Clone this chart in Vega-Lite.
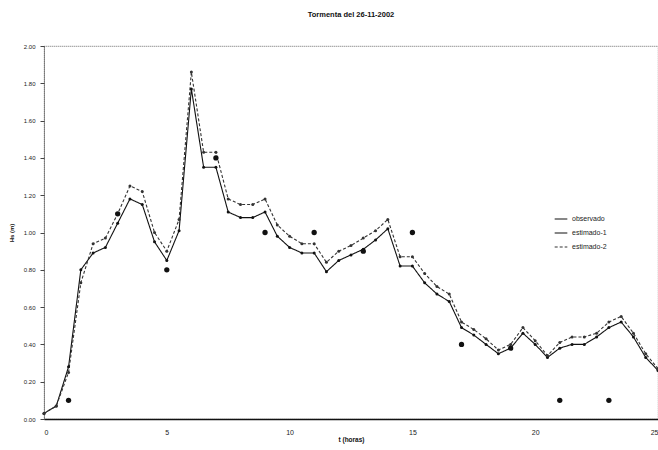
{
  "$schema": "https://vega.github.io/schema/vega-lite/v6.json",
  "autosize": {"type": "none"},
  "width": 614,
  "height": 373,
  "padding": {"left": 44, "top": 46, "right": 0, "bottom": 31},
  "background": "white",
  "title": {"text": "Tormenta del 26-11-2002", "fontSize": 7.5, "font": "Liberation Sans", "fontWeight": "bold", "color": "#111", "offset": 25, "anchor": "middle"},
  "config": {
    "view": {"stroke": "#444", "strokeDash": [1, 1], "strokeWidth": 0.8},
    "axis": {"grid": false, "labelFont": "Liberation Sans", "titleFont": "Liberation Sans", "labelColor": "#222", "titleColor": "#111"}
  },
  "data": {"values": [
    {"t": 0, "serie": "estimado-1", "hs": 0.03},
    {"t": 0.5, "serie": "estimado-1", "hs": 0.07},
    {"t": 1, "serie": "estimado-1", "hs": 0.28},
    {"t": 1.5, "serie": "estimado-1", "hs": 0.80},
    {"t": 2, "serie": "estimado-1", "hs": 0.89},
    {"t": 2.5, "serie": "estimado-1", "hs": 0.92},
    {"t": 3, "serie": "estimado-1", "hs": 1.05},
    {"t": 3.5, "serie": "estimado-1", "hs": 1.18},
    {"t": 4, "serie": "estimado-1", "hs": 1.15},
    {"t": 4.5, "serie": "estimado-1", "hs": 0.95},
    {"t": 5, "serie": "estimado-1", "hs": 0.85},
    {"t": 5.5, "serie": "estimado-1", "hs": 1.01},
    {"t": 6, "serie": "estimado-1", "hs": 1.77},
    {"t": 6.5, "serie": "estimado-1", "hs": 1.35},
    {"t": 7, "serie": "estimado-1", "hs": 1.35},
    {"t": 7.5, "serie": "estimado-1", "hs": 1.11},
    {"t": 8, "serie": "estimado-1", "hs": 1.08},
    {"t": 8.5, "serie": "estimado-1", "hs": 1.08},
    {"t": 9, "serie": "estimado-1", "hs": 1.11},
    {"t": 9.5, "serie": "estimado-1", "hs": 0.98},
    {"t": 10, "serie": "estimado-1", "hs": 0.92},
    {"t": 10.5, "serie": "estimado-1", "hs": 0.89},
    {"t": 11, "serie": "estimado-1", "hs": 0.89},
    {"t": 11.5, "serie": "estimado-1", "hs": 0.79},
    {"t": 12, "serie": "estimado-1", "hs": 0.85},
    {"t": 12.5, "serie": "estimado-1", "hs": 0.88},
    {"t": 13, "serie": "estimado-1", "hs": 0.91},
    {"t": 13.5, "serie": "estimado-1", "hs": 0.96},
    {"t": 14, "serie": "estimado-1", "hs": 1.02},
    {"t": 14.5, "serie": "estimado-1", "hs": 0.82},
    {"t": 15, "serie": "estimado-1", "hs": 0.82},
    {"t": 15.5, "serie": "estimado-1", "hs": 0.73},
    {"t": 16, "serie": "estimado-1", "hs": 0.67},
    {"t": 16.5, "serie": "estimado-1", "hs": 0.63},
    {"t": 17, "serie": "estimado-1", "hs": 0.49},
    {"t": 17.5, "serie": "estimado-1", "hs": 0.45},
    {"t": 18, "serie": "estimado-1", "hs": 0.40},
    {"t": 18.5, "serie": "estimado-1", "hs": 0.35},
    {"t": 19, "serie": "estimado-1", "hs": 0.38},
    {"t": 19.5, "serie": "estimado-1", "hs": 0.46},
    {"t": 20, "serie": "estimado-1", "hs": 0.40},
    {"t": 20.5, "serie": "estimado-1", "hs": 0.33},
    {"t": 21, "serie": "estimado-1", "hs": 0.38},
    {"t": 21.5, "serie": "estimado-1", "hs": 0.40},
    {"t": 22, "serie": "estimado-1", "hs": 0.40},
    {"t": 22.5, "serie": "estimado-1", "hs": 0.44},
    {"t": 23, "serie": "estimado-1", "hs": 0.49},
    {"t": 23.5, "serie": "estimado-1", "hs": 0.52},
    {"t": 24, "serie": "estimado-1", "hs": 0.44},
    {"t": 24.5, "serie": "estimado-1", "hs": 0.33},
    {"t": 25, "serie": "estimado-1", "hs": 0.26},
    {"t": 0, "serie": "estimado-2", "hs": 0.03},
    {"t": 0.5, "serie": "estimado-2", "hs": 0.07},
    {"t": 1, "serie": "estimado-2", "hs": 0.25},
    {"t": 1.5, "serie": "estimado-2", "hs": 0.73},
    {"t": 2, "serie": "estimado-2", "hs": 0.94},
    {"t": 2.5, "serie": "estimado-2", "hs": 0.97},
    {"t": 3, "serie": "estimado-2", "hs": 1.10},
    {"t": 3.5, "serie": "estimado-2", "hs": 1.25},
    {"t": 4, "serie": "estimado-2", "hs": 1.22},
    {"t": 4.5, "serie": "estimado-2", "hs": 1.00},
    {"t": 5, "serie": "estimado-2", "hs": 0.90},
    {"t": 5.5, "serie": "estimado-2", "hs": 1.07},
    {"t": 6, "serie": "estimado-2", "hs": 1.86},
    {"t": 6.5, "serie": "estimado-2", "hs": 1.43},
    {"t": 7, "serie": "estimado-2", "hs": 1.43},
    {"t": 7.5, "serie": "estimado-2", "hs": 1.18},
    {"t": 8, "serie": "estimado-2", "hs": 1.15},
    {"t": 8.5, "serie": "estimado-2", "hs": 1.15},
    {"t": 9, "serie": "estimado-2", "hs": 1.18},
    {"t": 9.5, "serie": "estimado-2", "hs": 1.04},
    {"t": 10, "serie": "estimado-2", "hs": 0.98},
    {"t": 10.5, "serie": "estimado-2", "hs": 0.94},
    {"t": 11, "serie": "estimado-2", "hs": 0.94},
    {"t": 11.5, "serie": "estimado-2", "hs": 0.84},
    {"t": 12, "serie": "estimado-2", "hs": 0.90},
    {"t": 12.5, "serie": "estimado-2", "hs": 0.93},
    {"t": 13, "serie": "estimado-2", "hs": 0.97},
    {"t": 13.5, "serie": "estimado-2", "hs": 1.01},
    {"t": 14, "serie": "estimado-2", "hs": 1.07},
    {"t": 14.5, "serie": "estimado-2", "hs": 0.87},
    {"t": 15, "serie": "estimado-2", "hs": 0.87},
    {"t": 15.5, "serie": "estimado-2", "hs": 0.78},
    {"t": 16, "serie": "estimado-2", "hs": 0.71},
    {"t": 16.5, "serie": "estimado-2", "hs": 0.67},
    {"t": 17, "serie": "estimado-2", "hs": 0.52},
    {"t": 17.5, "serie": "estimado-2", "hs": 0.48},
    {"t": 18, "serie": "estimado-2", "hs": 0.43},
    {"t": 18.5, "serie": "estimado-2", "hs": 0.37},
    {"t": 19, "serie": "estimado-2", "hs": 0.40},
    {"t": 19.5, "serie": "estimado-2", "hs": 0.49},
    {"t": 20, "serie": "estimado-2", "hs": 0.42},
    {"t": 20.5, "serie": "estimado-2", "hs": 0.34},
    {"t": 21, "serie": "estimado-2", "hs": 0.41},
    {"t": 21.5, "serie": "estimado-2", "hs": 0.44},
    {"t": 22, "serie": "estimado-2", "hs": 0.44},
    {"t": 22.5, "serie": "estimado-2", "hs": 0.46},
    {"t": 23, "serie": "estimado-2", "hs": 0.52},
    {"t": 23.5, "serie": "estimado-2", "hs": 0.55},
    {"t": 24, "serie": "estimado-2", "hs": 0.46},
    {"t": 24.5, "serie": "estimado-2", "hs": 0.35},
    {"t": 25, "serie": "estimado-2", "hs": 0.27},
    {"t": 1, "serie": "observado", "hs": 0.10},
    {"t": 3, "serie": "observado", "hs": 1.10},
    {"t": 5, "serie": "observado", "hs": 0.80},
    {"t": 7, "serie": "observado", "hs": 1.40},
    {"t": 9, "serie": "observado", "hs": 1.00},
    {"t": 11, "serie": "observado", "hs": 1.00},
    {"t": 13, "serie": "observado", "hs": 0.90},
    {"t": 15, "serie": "observado", "hs": 1.00},
    {"t": 17, "serie": "observado", "hs": 0.40},
    {"t": 19, "serie": "observado", "hs": 0.38},
    {"t": 21, "serie": "observado", "hs": 0.10},
    {"t": 23, "serie": "observado", "hs": 0.10}
  ]},
  "encoding": {
    "x": {"field": "t", "type": "quantitative", "scale": {"domain": [0, 25], "nice": false},
      "axis": {"values": [0, 5, 10, 15, 20, 25], "title": "t (horas)", "titleFontSize": 6.5, "titleFontWeight": "bold", "labelFontSize": 7, "ticks": false, "labelPadding": 9, "titlePadding": 1, "domainColor": "#111", "domainWidth": 1.6}},
    "y": {"field": "hs", "type": "quantitative", "scale": {"domain": [0, 2], "nice": false},
      "axis": {"values": [0, 0.2, 0.4, 0.6, 0.8, 1.0, 1.2, 1.4, 1.6, 1.8, 2.0], "format": ".2f", "title": "Hs (m)", "titleFontSize": 6, "titleFontWeight": "bold", "labelFontSize": 6, "tickSize": 4, "tickColor": "#444", "labelPadding": 5, "titlePadding": 9, "domainColor": "#444", "domainDash": [1, 1]}},
    "color": {"field": "serie", "type": "nominal",
      "scale": {"domain": ["observado", "estimado-1", "estimado-2"], "range": ["#111111", "#111111", "#333333"]},
      "legend": {"title": null, "orient": "none", "legendX": 506, "legendY": 162, "symbolType": "stroke", "symbolSize": 160, "symbolStrokeWidth": 1.2, "labelFont": "Liberation Sans", "labelFontSize": 7, "labelColor": "#222", "rowPadding": 4, "padding": 4}}
  },
  "layer": [
    {
      "transform": [{"filter": "datum.serie !== 'observado'"}],
      "mark": {"type": "line", "strokeWidth": 1.1, "point": {"filled": true, "size": 9}},
      "encoding": {
        "strokeDash": {"field": "serie", "type": "nominal",
          "scale": {"domain": ["observado", "estimado-1", "estimado-2"], "range": [[1, 0], [1, 0], [3, 2]]},
          "legend": {"title": null, "orient": "none", "legendX": 506, "legendY": 162, "symbolType": "stroke", "symbolSize": 160, "symbolStrokeWidth": 1.2, "labelFont": "Liberation Sans", "labelFontSize": 7, "labelColor": "#222", "rowPadding": 4, "padding": 4}}
      }
    },
    {
      "transform": [{"filter": "datum.serie === 'observado'"}],
      "mark": {"type": "point", "filled": true, "size": 28, "opacity": 1}
    }
  ]
}
